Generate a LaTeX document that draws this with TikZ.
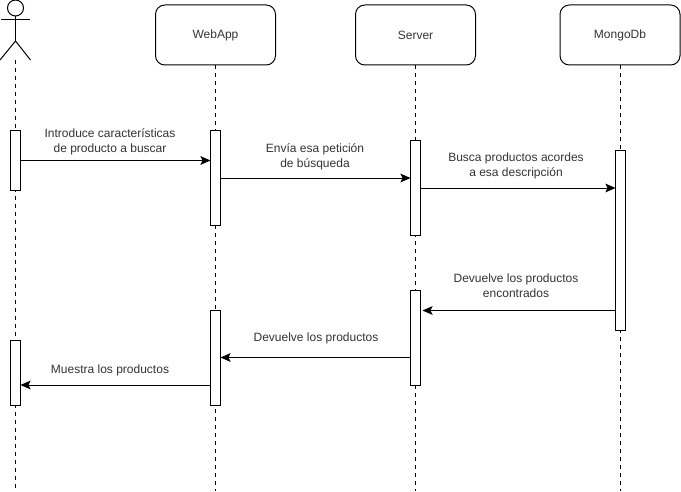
\documentclass[tikz,border=0pt]{standalone}
\usepackage{fontspec}
\setmainfont{Liberation Sans}
\tikzset{every picture/.style={line width=0.75pt}}
\tikzset{
  headbox/.style={draw,rounded corners=7pt,minimum width=90pt,minimum height=45pt,outer sep=0pt,text=black!80,font=\fontsize{9}{12}\selectfont},
  lifebar/.style={draw,fill=white,minimum width=7.5pt,inner sep=0pt,outer sep=0pt},
  lifeline/.style={dashed,dash pattern=on 3pt off 3pt},
  msg/.style={-{Stealth[length=7.5pt,width=6.5pt,inset=1.5pt]}},
  msgtext/.style={align=center,text=black!80,font=\fontsize{9}{11.25}\selectfont,inner sep=0pt}
}
\usetikzlibrary{arrows.meta}
\begin{document}
\begin{tikzpicture}[x=0.75pt,y=0.75pt,yscale=-1,xscale=1]
\useasboundingbox (0,0) rectangle (681,492);

%Shape: Actor
\node [draw,circle,minimum size=12pt,inner sep=0pt,outer sep=0pt] (head) at (15.5,8) {};
\coordinate (hip) at (15.5,41);
\coordinate (armL) at (1,20);
\coordinate (armR) at (30,20);
\coordinate (legL) at (0,60);
\coordinate (legR) at (30.5,60);
\draw (head.south) -- (hip);
\draw (armL) -- (armR);
\draw (legL) -- (hip) -- (legR);

%Shape: Heads
\node [headbox] (webapp) at (215.5,35) {WebApp};
\node [headbox] (server) at (415.5,35) {Server};
\node [headbox] (mongo) at (620,35) {MongoDb};

%Straight Lines: lifelines
\coordinate (actorTop) at (15.5,60);
\coordinate (actorEnd) at (15.5,491);
\coordinate (webappEnd) at (215.5,491);
\coordinate (serverEnd) at (415.5,491);
\coordinate (mongoEnd) at (620,491);
\draw [lifeline] (actorTop) -- (actorEnd);
\draw [lifeline] (webapp.south) -- (webappEnd);
\draw [lifeline] (server.south) -- (serverEnd);
\draw [lifeline] (mongo.south) -- (mongoEnd);

%Shape: Activation bars
\node [lifebar,minimum height=45pt] (actorA) at (15.5,160) {};
\node [lifebar,minimum height=48.75pt] (actorB) at (15.5,372.5) {};
\node [lifebar,minimum height=71.25pt] (webappA) at (215.5,177.5) {};
\node [lifebar,minimum height=71.25pt] (webappB) at (215.5,357.5) {};
\node [lifebar,minimum height=71.25pt] (serverA) at (415.5,187.5) {};
\node [lifebar,minimum height=71.25pt] (serverB) at (415.5,337.5) {};
\node [lifebar,minimum height=135pt] (mongoA) at (620.5,240) {};

%Straight Lines: messages
\draw [msg] (actorA.east |- 0,160.5) -- (webappA.west |- 0,160.5);
\draw [msg] (webappA.east |- 0,178) -- (serverA.west |- 0,178);
\draw [msg] (serverA.east |- 0,188) -- (mongoA.west |- 0,188);
\draw [msg] (mongoA.west |- 0,310.5) -- ([xshift=1.5pt]serverB.east |- 0,310.5);
\draw [msg] (serverB.west |- 0,357.5) -- (webappB.east |- 0,357.5);
\draw [msg] (webappB.west |- 0,385) -- (actorB.east |- 0,385);

% Text Node
\node [msgtext] (txtA) at (110,141.5) {Introduce características\\de producto a buscar};
% Text Node
\node [msgtext] (txtB) at (315,156.5) {Envía esa petición\\de búsqueda};
% Text Node
\node [msgtext] (txtC) at (516,166) {Busca productos acordes\\a esa descripción};
% Text Node
\node [msgtext] (txtD) at (516,286) {Devuelve los productos\\encontrados};
% Text Node
\node [msgtext] (txtE) at (316,338.5) {Devuelve los productos};
% Text Node
\node [msgtext] (txtF) at (110,370.5) {Muestra los productos};
\end{tikzpicture}
\end{document}
